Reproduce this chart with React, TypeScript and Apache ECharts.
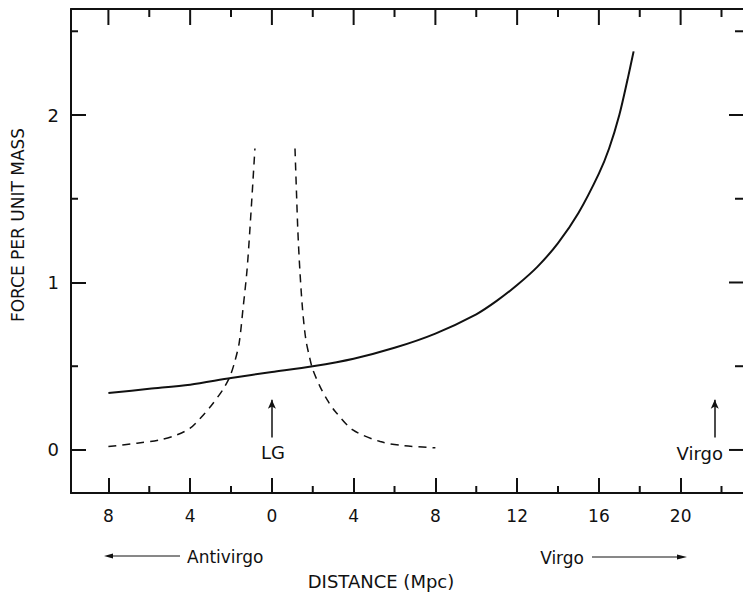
import React, { useEffect, useRef } from "react";
import * as echarts from "echarts";

// Solid curve: force per unit mass along the line through LG toward Virgo
const solidX = [-8, -6, -4, -2, 0, 2, 4, 6, 8, 10, 11, 12, 13, 14, 15, 16, 16.5, 17, 17.4, 17.7];
const solidY = [0.34, 0.365, 0.39, 0.43, 0.465, 0.5, 0.545, 0.61, 0.695, 0.81, 0.89, 0.985, 1.095, 1.235, 1.415, 1.65, 1.8, 2.0, 2.21, 2.38];

// Dashed curve (Local Group), left branch
const dashLeftX = [-8, -6.6, -5.5, -4.65, -4, -3.5, -3, -2.4, -2.05, -1.81, -1.6, -1.42, -1.22, -1.08, -0.93, -0.83];
const dashLeftY = [0.02, 0.04, 0.06, 0.09, 0.13, 0.19, 0.26, 0.36, 0.44, 0.53, 0.64, 0.836, 1.07, 1.31, 1.6, 1.8];

// Dashed curve, right branch
const dashRightX = [1.13, 1.2, 1.27, 1.37, 1.5, 1.66, 1.85, 2.0, 2.35, 2.7, 3.1, 3.96, 5.3, 6.5, 8];
const dashRightY = [1.8, 1.55, 1.31, 1.07, 0.84, 0.66, 0.55, 0.48, 0.38, 0.3, 0.23, 0.12, 0.05, 0.025, 0.013];

// Axis ticks
const xMajorTicks = [-8, -4, 0, 4, 8, 12, 16, 20];
const xMinorTicks = [-6, -2, 2, 6, 10, 14, 18, 22];
const yMajorTicks = [0, 1, 2];
const yMinorTicks = [0.5, 1.5, 2.5];

// Annotation positions (data coordinates)
const lgX = 0;
const virgoX = 21.67;
const arrowFromY = 0.075;
const arrowToY = 0.3;

const FONT = '"DejaVu Sans", Verdana, sans-serif';
const X_MIN = -9.83;
const X_MAX = 23.15;
const Y_MIN = -0.257;
const Y_MAX = 2.633;

const zip = (a: number[], b: number[]) => a.map((v, i) => [v, b[i]]);

export default function App() {
  const ref = useRef<HTMLDivElement>(null);
  useEffect(() => {
    if (!ref.current) return;
    const chart = echarts.init(ref.current, undefined, { renderer: "svg" });
    const black = "#111";

    const annotations: any[] = [
      {
        type: "text",
        x: 18,
        y: 225,
        rotation: Math.PI / 2,
        style: { text: "FORCE PER UNIT MASS", font: `17px ${FONT}`, fill: black, align: "center", verticalAlign: "middle" },
      },
      {
        type: "text",
        x: 273,
        y: 452,
        style: { text: "LG", font: `18px ${FONT}`, fill: black, align: "center", verticalAlign: "middle" },
      },
      {
        type: "text",
        x: 723,
        y: 453,
        style: { text: "Virgo", font: `18px ${FONT}`, fill: black, align: "right", verticalAlign: "middle" },
      },
      { type: "line", shape: { x1: 108, y1: 556, x2: 180, y2: 556 }, style: { stroke: black, lineWidth: 1 } },
      { type: "polygon", shape: { points: [[104, 556], [113, 553.5], [113, 558.5]] }, style: { fill: black } },
      {
        type: "text",
        x: 187,
        y: 557,
        style: { text: "Antivirgo", font: `17px ${FONT}`, fill: black, align: "left", verticalAlign: "middle" },
      },
      {
        type: "text",
        x: 584,
        y: 558,
        style: { text: "Virgo", font: `17px ${FONT}`, fill: black, align: "right", verticalAlign: "middle" },
      },
      { type: "line", shape: { x1: 592, y1: 557, x2: 682, y2: 557 }, style: { stroke: black, lineWidth: 1 } },
      { type: "polygon", shape: { points: [[687, 557], [677, 554.5], [677, 559.5]] }, style: { fill: black } },
      {
        type: "text",
        x: 381,
        y: 581,
        style: { text: "DISTANCE (Mpc)", font: `18px ${FONT}`, fill: black, align: "center", verticalAlign: "middle" },
      },
    ];

    chart.setOption({
      animation: false,
      backgroundColor: "#fff",
      grid: { left: 71, top: 9, right: -2, bottom: 103, containLabel: false, outerBoundsMode: "none" },
      xAxis: [
        {
          type: "value",
          position: "bottom",
          min: X_MIN,
          max: X_MAX,
          axisLine: { show: true, onZero: false, lineStyle: { color: black, width: 2 } },
          axisTick: { show: true, inside: true, length: 15, customValues: xMajorTicks, lineStyle: { color: black, width: 2 } },
          axisLabel: {
            show: true,
            customValues: xMajorTicks,
            margin: 14,
            color: black,
            fontFamily: FONT,
            fontSize: 17,
            formatter: (v: number) => String(Math.abs(v)),
          },
          splitLine: { show: false },
        },
        {
          type: "value",
          position: "top",
          min: X_MIN,
          max: X_MAX,
          axisLine: { show: true, onZero: false, lineStyle: { color: black, width: 2 } },
          axisTick: { show: false },
          axisLabel: { show: false },
          splitLine: { show: false },
        },
      ],
      yAxis: [
        {
          type: "value",
          position: "left",
          min: Y_MIN,
          max: Y_MAX,
          axisLine: { show: true, onZero: false, lineStyle: { color: black, width: 2 } },
          axisTick: { show: true, inside: true, length: 15, customValues: yMajorTicks, lineStyle: { color: black, width: 2 } },
          axisLabel: { show: true, customValues: yMajorTicks, margin: 12, color: black, fontFamily: FONT, fontSize: 18 },
          splitLine: { show: false },
        },
      ],
      series: [
        {
          type: "line",
          data: zip(solidX, solidY),
          smooth: 0.3,
          showSymbol: false,
          lineStyle: { color: black, width: 2 },
          markLine: {
            silent: true,
            symbol: ["none", "arrow"],
            symbolSize: [6, 9],
            label: { show: false },
            lineStyle: { color: black, width: 1.5, type: "solid" },
            data: [
              [{ coord: [lgX, arrowFromY] }, { coord: [lgX, arrowToY] }],
              [{ coord: [virgoX, arrowFromY] }, { coord: [virgoX, arrowToY] }],
            ],
          },
        },
        {
          type: "line",
          data: zip(dashLeftX, dashLeftY),
          smooth: 0.3,
          showSymbol: false,
          lineStyle: { color: black, width: 1.5, type: [8, 6] },
        },
        {
          type: "line",
          data: zip(dashRightX, dashRightY),
          smooth: 0.3,
          showSymbol: false,
          lineStyle: { color: black, width: 1.5, type: [8, 6] },
        },
      ],
      graphic: annotations,
    });

    // Extra ticks (top, right, minor) placed through the chart's own scales
    const toPx = (x: number, y: number) => chart.convertToPixel({ gridIndex: 0 }, [x, y]) as number[];
    const top = toPx(0, Y_MAX)[1];
    const bottom = toPx(0, Y_MIN)[1];
    const left = toPx(X_MIN, 0)[0];
    const right = Math.min(toPx(X_MAX, 0)[0], 743);
    const tk = (x1: number, y1: number, x2: number, y2: number) => ({
      type: "line",
      silent: true,
      z: 100,
      shape: { x1, y1, x2, y2 },
      style: { stroke: black, lineWidth: 2 },
    });
    const ticks: any[] = [];
    xMajorTicks.forEach((v) => {
      const px = toPx(v, 0)[0];
      ticks.push(tk(px, top, px, top + 16));
    });
    xMinorTicks.forEach((v) => {
      const px = toPx(v, 0)[0];
      ticks.push(tk(px, top, px, top + 8));
      ticks.push(tk(px, bottom, px, bottom - 7));
    });
    yMajorTicks.forEach((v) => {
      const py = toPx(0, v)[1];
      ticks.push(tk(right, py, right - 14, py));
    });
    yMinorTicks.forEach((v) => {
      const py = toPx(0, v)[1];
      ticks.push(tk(right, py, right - 8, py));
      ticks.push(tk(left, py, left + 7, py));
    });
    chart.setOption({ graphic: [...annotations, ...ticks] });

    return () => chart.dispose();
  }, []);
  return <div ref={ref} style={{ position: "absolute", left: 0, top: 0, width: 743, height: 596 }} />;
}
